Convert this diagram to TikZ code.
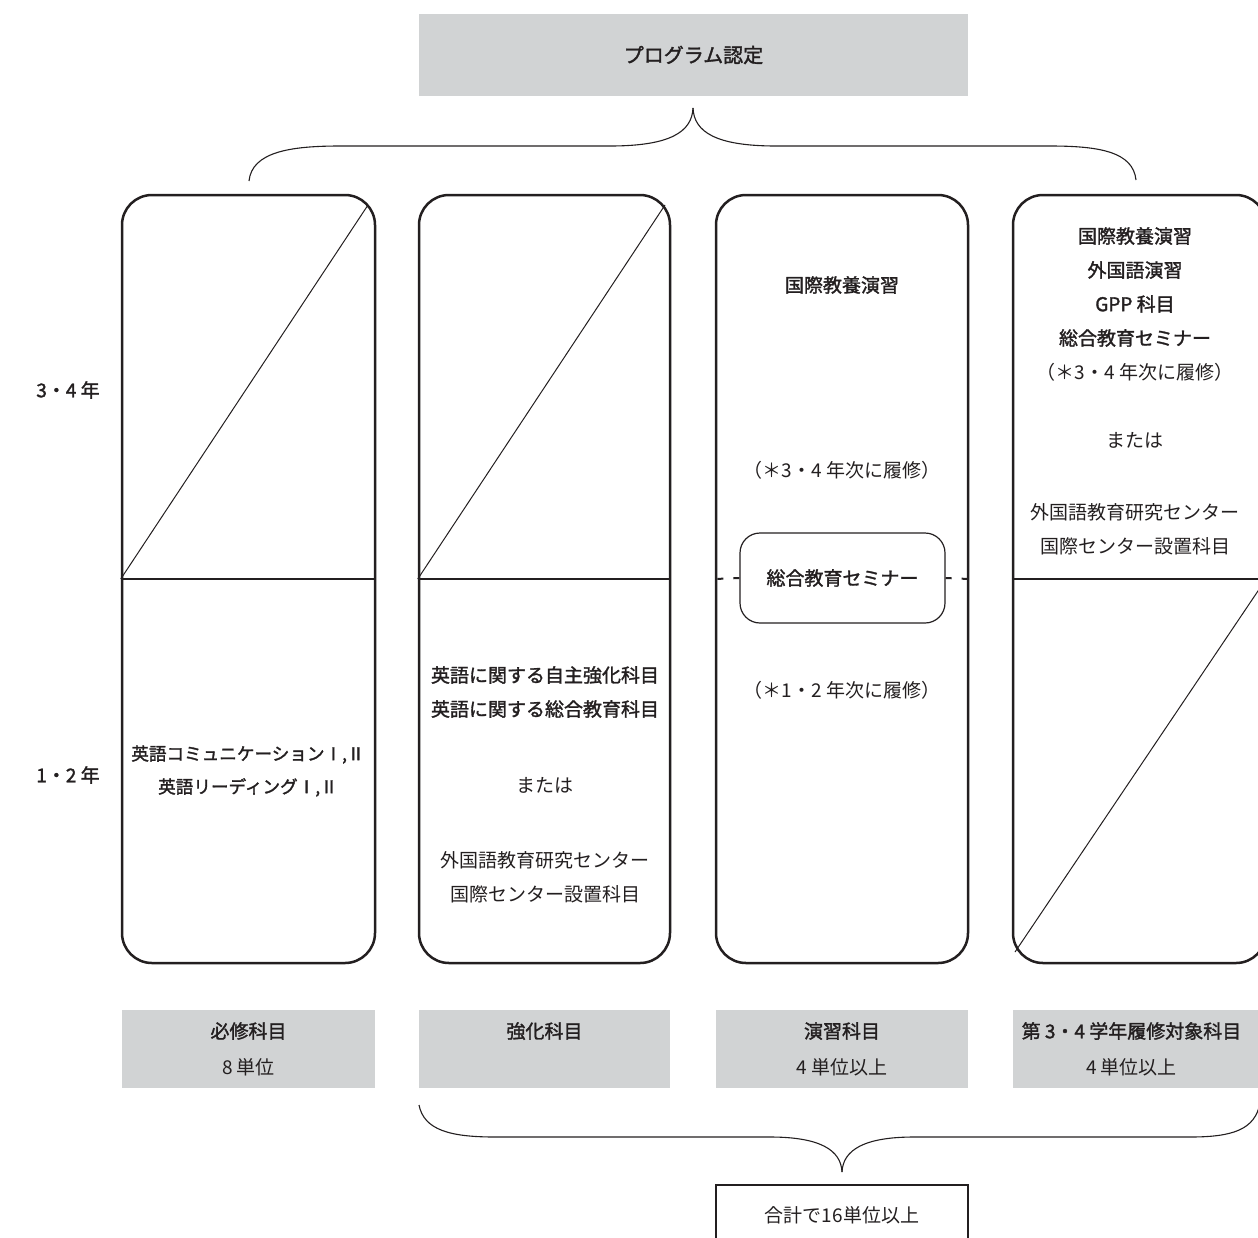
\documentclass[tikz,border=0pt]{standalone}
\usepackage{fontspec}
\setmainfont{Noto Sans CJK JP}[BoldFont={Noto Sans CJK JP},BoldFeatures={FakeBold=1.6}]
\definecolor{inkc}{HTML}{231F20}
\definecolor{grayc}{HTML}{D1D3D4}
\begin{document}
\begin{tikzpicture}[x=0.5pt,y=-0.5pt,
  col/.style={draw=inkc, line width=1.25pt, rounded corners=15pt, minimum width=126.5pt, minimum height=384pt, inner sep=0pt},
  graybox/.style={fill=grayc, inner sep=0pt, minimum height=39pt, minimum width=126.5pt, text=inkc, align=center, font=\fontsize{9.5pt}{18pt}\selectfont},
  txt/.style={text=inkc, font=\fontsize{9.5pt}{17pt}\selectfont, align=center, inner sep=0pt},
  btxt/.style={text=inkc, font=\fontsize{9.5pt}{17pt}\selectfont\bfseries, align=center, inner sep=0pt},
  thinline/.style={draw=inkc, line width=0.5pt},
  divider/.style={draw=inkc, line width=1pt},
  bracel/.style={draw=inkc, line width=0.55pt},
  dashline/.style={draw=inkc, line width=1pt, dash pattern=on 3pt off 5pt},
  seminar/.style={draw=inkc, line width=0.6pt, rounded corners=10pt, minimum width=102.5pt, minimum height=45pt, inner sep=0pt, text=inkc, font=\fontsize{9.5pt}{17pt}\selectfont\bfseries},
  sumbox/.style={draw=inkc, line width=1pt, minimum width=126pt, minimum height=40pt, inner sep=0pt}
]
\useasboundingbox (0,0) rectangle (1258,1237);
\clip (0,0) rectangle (1258,1237);

% top box
\node[graybox, minimum width=274.5pt, minimum height=41pt, font=\fontsize{10pt}{12pt}\selectfont\bfseries] (top) at (693.5,55) {プログラム認定};

% top brace
\draw[bracel] (249,181) .. controls (252,152) and (290,146) .. (340,146) -- (610,146) .. controls (670,146) and (692,132) .. (693,108);
\draw[bracel] (693,108) .. controls (694,132) and (716,146) .. (776,146) -- (1050,146) .. controls (1100,146) and (1133,152) .. (1136,180);

% columns
\node[col] (c1) at (248.5,579) {};
\node[col, minimum width=125.5pt] (c2) at (544.5,579) {};
\node[col, minimum width=126pt] (c3) at (842,579) {};
\node[col] (c4) at (1139.5,579) {};

% dividers
\draw[divider] (c1.west) -- (c1.east);
\draw[divider] (c2.west) -- (c2.east);
\draw[divider] (c4.west) -- (c4.east);

% diagonals
\draw[thinline] (c1.west) -- (368,205);
\draw[thinline] (c2.west) -- (665,205);
\draw[thinline] (1015,952) -- (1264,582);

% seminar box
\node[seminar] (sem) at (842.5,578) {総合教育セミナー};
\draw[dashline] (sem.west) -- (c3.west);
\draw[dashline] (sem.east) -- (c3.east);

% year labels
\node[btxt] (y34) at (68,390) {3・4 年};
\node[btxt] (y12) at (68,775) {1・2 年};

% column 1
\node[btxt, font=\fontsize{8.8pt}{16.5pt}\selectfont\bfseries] (t1) at (248,771) {英語コミュニケーションⅠ,Ⅱ\\英語リーディングⅠ,Ⅱ};

% column 2
\node[btxt] (t2a) at (545,692) {英語に関する自主強化科目\\英語に関する総合教育科目};
\node[txt] (t2b) at (545,785) {または};
\node[txt] (t2c) at (545,877) {外国語教育研究センター\\国際センター設置科目};

% column 3
\node[btxt] (t3a) at (842,285) {国際教養演習};
\node[txt] (t3b) at (842,470) {（＊3・4 年次に履修）};
\node[txt] (t3c) at (842,690) {（＊1・2 年次に履修）};

% column 4
\node[btxt] (t4a) at (1135,287) {国際教養演習\\外国語演習\\GPP 科目\\総合教育セミナー};
\node[txt] (t4b) at (1135,372) {（＊3・4 年次に履修）};
\node[txt] (t4c) at (1135,440) {または};
\node[txt] (t4d) at (1135,529) {外国語教育研究センター\\国際センター設置科目};

% bottom gray boxes
\node[graybox] (g1) at (248.5,1049) {\textbf{必修科目}\\8 単位};
\node[graybox, minimum width=125.5pt] (g2) at (544.5,1049) {\textbf{強化科目}\\\phantom{8 単位}};
\node[graybox, minimum width=126pt] (g3) at (842,1049) {\textbf{演習科目}\\4 単位以上};
\node[graybox] (g4) at (1139.5,1049) {\hspace*{-8pt}\textbf{第 3・4 学年履修対象科目}\\\hspace*{-8pt}4 単位以上};

% bottom brace
\draw[bracel] (419,1105) .. controls (424,1130) and (450,1137) .. (495,1137) -- (770,1137) .. controls (820,1137) and (841,1150) .. (842,1172);
\draw[bracel] (842,1172) .. controls (843,1150) and (864,1137) .. (914,1137) -- (1190,1137) .. controls (1232,1137) and (1255,1130) .. (1260,1103);

% sum box
\node[sumbox] (sum) at (842,1225) {};
\node[txt] (sumt) at (842,1215) {合計で16単位以上};
\end{tikzpicture}
\end{document}
